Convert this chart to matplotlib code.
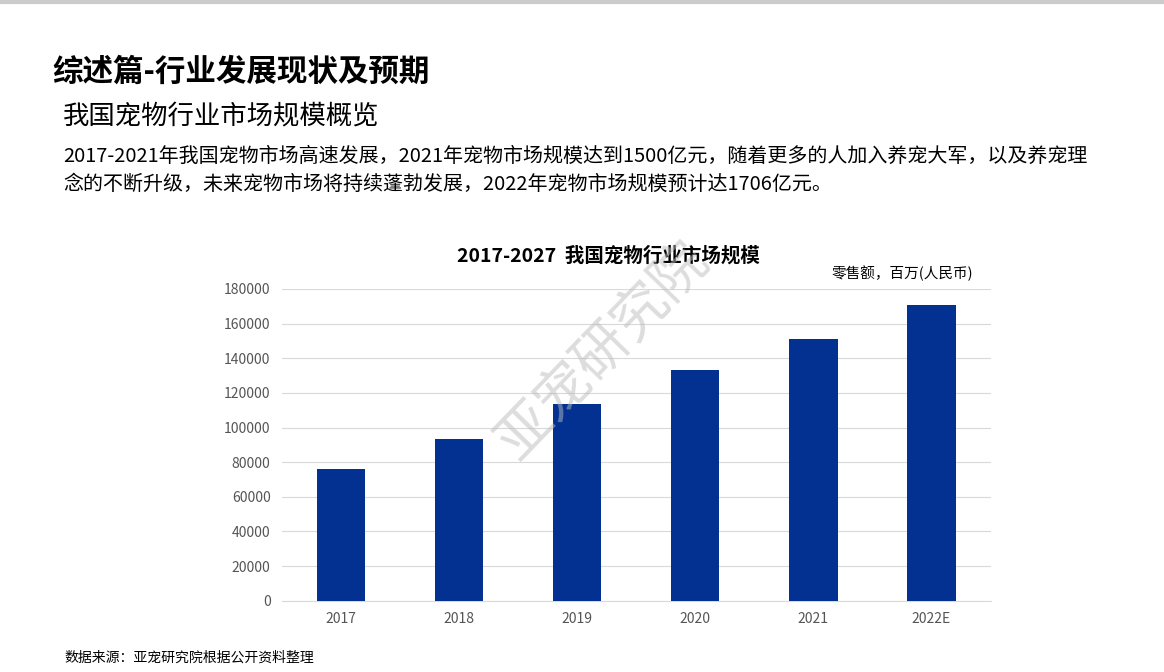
import matplotlib
matplotlib.use("Agg")
import matplotlib.pyplot as plt

plt.rcParams['font.family'] = ['Noto Sans CJK SC', 'DejaVu Sans']

years = ["2017", "2018", "2019", "2020", "2021", "2022E"]
sales = [76000, 93300, 113500, 133000, 151000, 170600]
yticks = list(range(0, 180001, 20000))

fig = plt.figure(figsize=(11.64, 6.72), dpi=100)
ax = fig.add_axes([0.242, 0.106, 0.609, 0.464])
ax.bar(range(len(years)), sales, width=0.41, color="#023192", zorder=3)
ax.set_xlim(-0.5, len(years) - 0.5)
ax.set_ylim(0, 180000)
ax.set_yticks(yticks)
ax.set_yticklabels([str(v) for v in yticks], fontsize=10, color="#555555")
ax.set_xticks(range(len(years)))
ax.set_xticklabels(years, fontsize=10, color="#555555")
ax.grid(axis="y", color="#d9d9d9", linewidth=0.8, zorder=0)
for s in ["top", "right", "left"]:
    ax.spines[s].set_visible(False)
ax.spines["bottom"].set_color("#d9d9d9")
ax.tick_params(length=0, pad=8)

# page texts
fig.add_artist(plt.Line2D([0, 1], [0.997, 0.997], color="#cccccc", linewidth=3))
fig.text(0.045, 0.893, "综述篇-行业发展现状及预期", fontsize=22, fontweight="bold", va="center")
fig.text(0.054, 0.826, "我国宠物行业市场规模概览", fontsize=19, va="center")
fig.text(0.054, 0.768, "2017-2021年我国宠物市场高速发展，2021年宠物市场规模达到1500亿元，随着更多的人加入养宠大军，以及养宠理",
         fontsize=14.4, va="center")
fig.text(0.054, 0.726, "念的不断升级，未来宠物市场将持续蓬勃发展，2022年宠物市场规模预计达1706亿元。",
         fontsize=14.4, va="center")
fig.text(0.523, 0.619, "2017-2027  我国宠物行业市场规模", fontsize=14, fontweight="bold", ha="center", va="center")
fig.text(0.836, 0.593, "零售额，百万(人民币)", fontsize=10.5, ha="right", va="center")
fig.text(0.055, 0.022, "数据来源：亚宠研究院根据公开资料整理", fontsize=10, va="center")
fig.text(0.518, 0.478, "亚宠研究院", fontsize=40, color="#bbbbbb", alpha=0.5, rotation=46,
         ha="center", va="center", zorder=5)

fig.savefig("out.png", dpi=100)
